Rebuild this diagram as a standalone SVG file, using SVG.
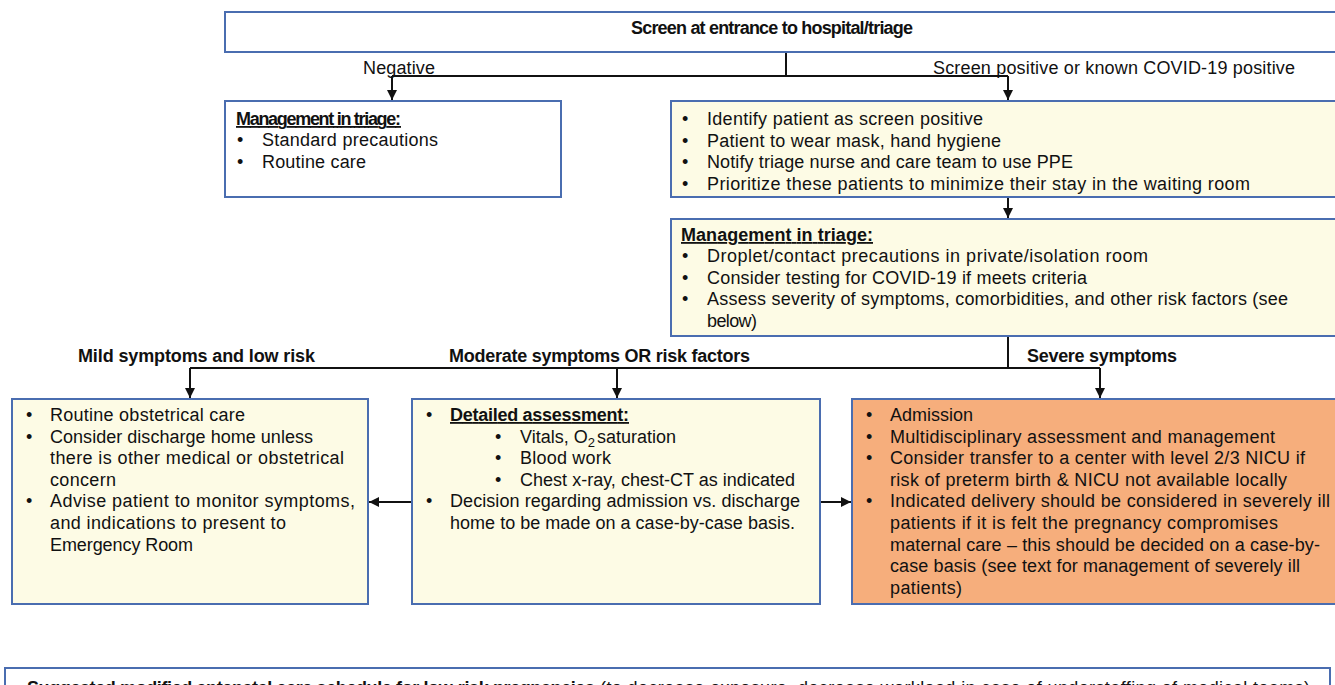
<svg xmlns="http://www.w3.org/2000/svg" width="1335" height="685" viewBox="0 0 1335 685">
<style>
.box{stroke:#4a6db0;stroke-width:2}
.w{fill:#ffffff}
.y{fill:#fdfbe5}
.o{fill:#f6ae7c}
text{font-family:"Liberation Sans",Arial,sans-serif;font-size:18px;fill:#111}
.b{font-weight:bold}
.u{text-decoration:underline}
.c{stroke:#111;stroke-width:2;fill:none}
</style>
<defs>
<marker id="ah" viewBox="0 0 10 10" refX="10" refY="5" markerWidth="5" markerHeight="5" orient="auto-start-reverse" markerUnits="strokeWidth">
<path d="M0,0 L10,5 L0,10 z" fill="#111"/>
</marker>
</defs>
<g id="connectors">
<path class="c" d="M786,52 V76"/>
<path class="c" d="M392,76 H1008"/>
<path class="c" d="M392,76 V100" marker-end="url(#ah)"/>
<path class="c" d="M1008,76 V100" marker-end="url(#ah)"/>
<path class="c" d="M1008,197 V218" marker-end="url(#ah)"/>
<path class="c" d="M1008,336 V368"/>
<path class="c" d="M190,368 H1100"/>
<path class="c" d="M190,368 V398" marker-end="url(#ah)"/>
<path class="c" d="M617,368 V398" marker-end="url(#ah)"/>
<path class="c" d="M1100,368 V398" marker-end="url(#ah)"/>
<path class="c" d="M412,502 H369" marker-end="url(#ah)"/>
<path class="c" d="M820,502 H851" marker-end="url(#ah)"/>
<text x="363" y="74" font-size="17" textLength="72">Negative</text>
<text x="933" y="74" textLength="362">Screen positive or known COVID-19 positive</text>
<text class="b" x="78" y="362" font-size="17.5" textLength="237">Mild symptoms and low risk</text>
<text class="b" x="449" y="362" font-size="17.5" textLength="301">Moderate symptoms OR risk factors</text>
<text class="b" x="1027" y="362" font-size="17.5" textLength="150">Severe symptoms</text>
</g>
<g id="screen">
<rect class="box w" x="225" y="12" width="1115" height="40"/>
<text class="b" x="631" y="34" font-size="15.5" textLength="282">Screen at entrance to hospital/triage</text>
</g>
<g id="negative-triage">
<rect class="box w" x="225" y="101" width="336" height="96"/>
<text class="b u" x="236" y="125" font-size="15" textLength="165">Management in triage:</text>
<text x="237" y="146">•</text><text x="262" y="146" textLength="176">Standard precautions</text>
<text x="237" y="168">•</text><text x="262" y="168" textLength="104">Routine care</text>
</g>
<g id="positive">
<rect class="box y" x="671" y="101" width="670" height="96"/>
<text x="682" y="125">•</text><text x="707" y="125" textLength="276">Identify patient as screen positive</text>
<text x="682" y="146.5">•</text><text x="707" y="146.5" textLength="294">Patient to wear mask, hand hygiene</text>
<text x="682" y="168">•</text><text x="707" y="168" textLength="366">Notify triage nurse and care team to use PPE</text>
<text x="682" y="189.5">•</text><text x="707" y="189.5" textLength="543">Prioritize these patients to minimize their stay in the waiting room</text>
</g>
<g id="positive-triage">
<rect class="box y" x="671" y="219" width="670" height="117"/>
<text class="b u" x="681" y="241" textLength="192">Management in triage:</text>
<text x="682" y="262">•</text><text x="707" y="262" textLength="441">Droplet/contact precautions in private/isolation room</text>
<text x="682" y="283.5">•</text><text x="707" y="283.5" textLength="380">Consider testing for COVID-19 if meets criteria</text>
<text x="682" y="305">•</text><text x="707" y="305" textLength="581">Assess severity of symptoms, comorbidities, and other risk factors (see</text>
<text x="707" y="326.5" textLength="50">below)</text>
</g>
<g id="mild">
<rect class="box y" x="12" y="399" width="356" height="205"/>
<text x="26" y="421">•</text><text x="50" y="421" textLength="195">Routine obstetrical care</text>
<text x="26" y="442.6">•</text><text x="50" y="442.6" textLength="263">Consider discharge home unless</text>
<text x="50" y="464.2" textLength="294">there is other medical or obstetrical</text>
<text x="50" y="485.8" textLength="66">concern</text>
<text x="26" y="507.4">•</text><text x="50" y="507.4" textLength="305">Advise patient to monitor symptoms,</text>
<text x="50" y="529" textLength="236">and indications to present to</text>
<text x="50" y="550.6" textLength="143">Emergency Room</text>
</g>
<g id="moderate">
<rect class="box y" x="412" y="399" width="408" height="205"/>
<text x="426" y="421">•</text><text class="b u" x="450" y="421" textLength="179">Detailed assessment:</text>
<text x="495" y="442.6">•</text><text x="520" y="442.6">Vitals, O<tspan font-size="13" dy="4">2</tspan><tspan dy="-4" dx="2">saturation</tspan></text>
<text x="495" y="464.2">•</text><text x="520" y="464.2" textLength="91">Blood work</text>
<text x="495" y="485.8">•</text><text x="520" y="485.8" textLength="275">Chest x-ray, chest-CT as indicated</text>
<text x="426" y="507.4">•</text><text x="450" y="507.4" textLength="350">Decision regarding admission vs. discharge</text>
<text x="450" y="529" textLength="345">home to be made on a case-by-case basis.</text>
</g>
<g id="severe">
<rect class="box o" x="852" y="399" width="490" height="205"/>
<text x="866" y="421">•</text><text x="890" y="421" textLength="83">Admission</text>
<text x="866" y="442.6">•</text><text x="890" y="442.6" textLength="385">Multidisciplinary assessment and management</text>
<text x="866" y="464.2">•</text><text x="890" y="464.2" textLength="415">Consider transfer to a center with level 2/3 NICU if</text>
<text x="890" y="485.8" textLength="397">risk of preterm birth &amp; NICU not available locally</text>
<text x="866" y="507.4">•</text><text x="890" y="507.4" textLength="440">Indicated delivery should be considered in severely ill</text>
<text x="890" y="529" textLength="388">patients if it is felt the pregnancy compromises</text>
<text x="890" y="550.6" textLength="430">maternal care – this should be decided on a case-by-</text>
<text x="890" y="572.2" textLength="410">case basis (see text for management of severely ill</text>
<text x="890" y="593.8" textLength="72">patients)</text>
</g>
<g id="schedule">
<rect class="box w" x="5" y="668" width="1325" height="40"/>
<text class="b" x="27" y="694" font-size="17" textLength="568">Suggested modified antenatal care schedule for low-risk pregnancies</text>
<text x="600" y="694" font-size="17" textLength="710">(to decrease exposure, decrease workload in case of understaffing of medical teams)</text>
</g>
</svg>
